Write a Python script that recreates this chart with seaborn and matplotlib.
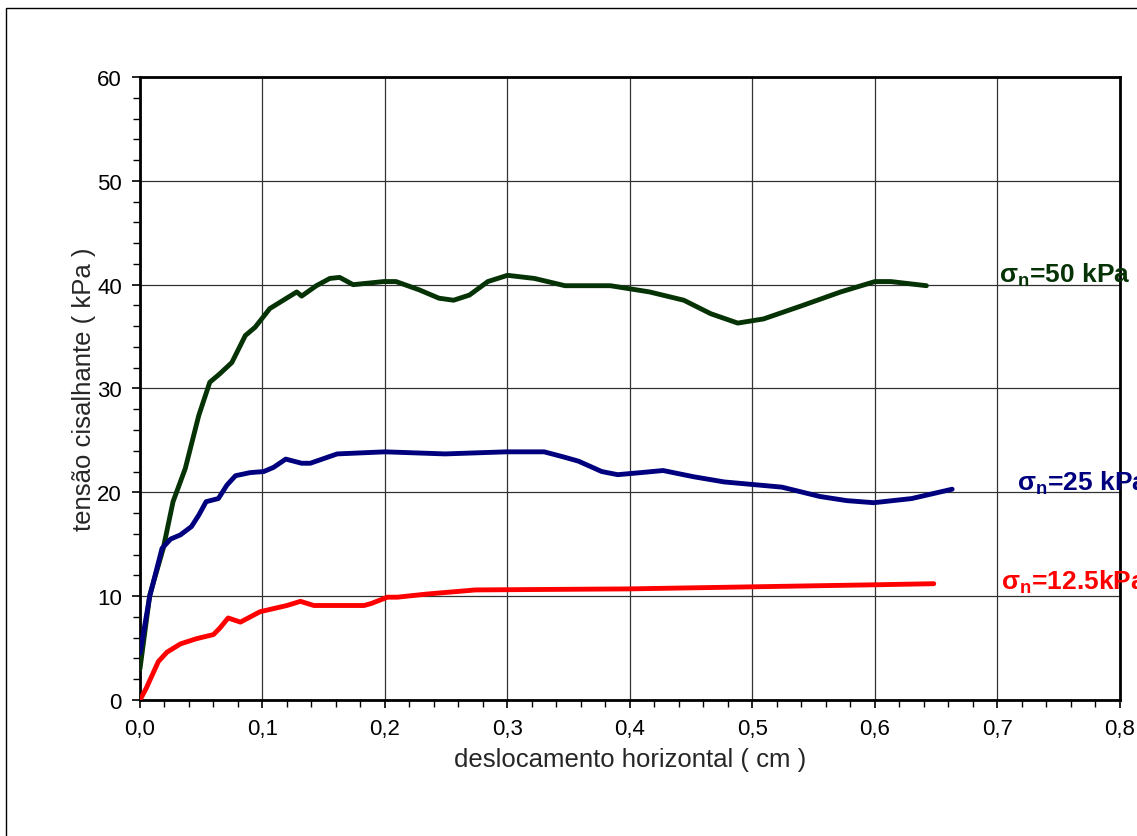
import matplotlib
matplotlib.use("Agg")
import numpy as np
import pandas as pd
import matplotlib.pyplot as plt
from matplotlib.patches import Rectangle
from matplotlib.ticker import MultipleLocator, FuncFormatter
import seaborn as sns

# dados (deslocamento em cm, tensão em kPa)
x_50 = [0.0, 0.008, 0.019, 0.027, 0.037, 0.048, 0.057, 0.065, 0.075, 0.086, 0.094,
        0.106, 0.117, 0.128, 0.132, 0.144, 0.155, 0.163, 0.174, 0.199, 0.209, 0.228,
        0.244, 0.256, 0.269, 0.284, 0.300, 0.322, 0.347, 0.384, 0.416, 0.444, 0.466,
        0.488, 0.509, 0.541, 0.572, 0.600, 0.613, 0.642]
y_50 = [3.0, 10.1, 14.6, 19.1, 22.3, 27.4, 30.6, 31.4, 32.5, 35.1, 35.9,
        37.7, 38.5, 39.3, 38.9, 39.9, 40.6, 40.7, 40.0, 40.3, 40.3, 39.5,
        38.7, 38.5, 39.0, 40.3, 40.9, 40.6, 39.9, 39.9, 39.3, 38.5, 37.2,
        36.3, 36.7, 38.0, 39.3, 40.3, 40.3, 39.9]

x_25 = [0.0, 0.008, 0.018, 0.025, 0.033, 0.042, 0.048, 0.054, 0.064, 0.071, 0.078,
        0.090, 0.101, 0.109, 0.119, 0.132, 0.139, 0.161, 0.200, 0.249, 0.299, 0.330,
        0.346, 0.358, 0.377, 0.390, 0.409, 0.427, 0.452, 0.477, 0.524, 0.555, 0.577,
        0.599, 0.630, 0.663]
y_25 = [4.5, 10.0, 14.6, 15.5, 15.9, 16.7, 17.8, 19.1, 19.4, 20.7, 21.6,
        21.9, 22.0, 22.4, 23.2, 22.8, 22.8, 23.7, 23.9, 23.7, 23.9, 23.9,
        23.4, 23.0, 22.0, 21.7, 21.9, 22.1, 21.5, 21.0, 20.5, 19.6, 19.2,
        19.0, 19.4, 20.3]

x_12 = [0.0, 0.005, 0.015, 0.022, 0.033, 0.046, 0.060, 0.065, 0.072, 0.082, 0.098,
        0.120, 0.131, 0.142, 0.183, 0.189, 0.202, 0.210, 0.234, 0.274, 0.399, 0.602,
        0.648]
y_12 = [0.0, 1.1, 3.7, 4.6, 5.4, 5.9, 6.3, 6.9, 7.9, 7.5, 8.5,
        9.1, 9.5, 9.1, 9.1, 9.3, 9.9, 9.9, 10.2, 10.6, 10.7, 11.1,
        11.2]

series = [
    (x_50, y_50, "#063306", r"$\mathregular{\sigma_n}$=50 kPa", (0.701, 40.3)),
    (x_25, y_25, "#00007f", r"$\mathregular{\sigma_n}$=25 kPa", (0.716, 20.2)),
    (x_12, y_12, "#ff0000", r"$\mathregular{\sigma_n}$=12.5kPa", (0.703, 10.7)),
]

sns.set_style("white")
plt.rcParams["font.family"] = ["Liberation Sans", "DejaVu Sans"]

fig = plt.figure(figsize=(11.37, 8.37), dpi=100)
ax = fig.add_axes([0.1231, 0.1625, 0.8619, 0.7443])

for xs, ys, col, lab, pos in series:
    df = pd.DataFrame({"x": xs, "y": ys})
    sns.lineplot(data=df, x="x", y="y", ax=ax, color=col, lw=3.5, sort=False,
                 solid_joinstyle="round", solid_capstyle="round", zorder=3)
    # como no original, os rótulos passam da borda direita da figura
    ax.text(pos[0], pos[1], lab, color=col, fontsize=19, fontweight="bold",
            va="baseline", ha="left", clip_on=False)

ax.set_xlim(0, 0.8)
ax.set_ylim(0, 60)
ax.xaxis.set_major_locator(MultipleLocator(0.1))
ax.xaxis.set_minor_locator(MultipleLocator(0.02))
ax.yaxis.set_major_locator(MultipleLocator(10))
ax.yaxis.set_minor_locator(MultipleLocator(2))
ax.xaxis.set_major_formatter(FuncFormatter(lambda v, p: f"{v:.1f}".replace(".", ",")))
ax.yaxis.set_major_formatter(FuncFormatter(lambda v, p: f"{v:.0f}"))

ax.grid(True, which="major", color="#333333", lw=0.9)
ax.tick_params(which="both", direction="out", colors="black", labelsize=16,
               bottom=True, left=True, top=False, right=False)
ax.tick_params(which="major", length=6, width=1.2, pad=7)
ax.tick_params(which="minor", length=5, width=1)
for sp in ax.spines.values():
    sp.set_color("black")
    sp.set_linewidth(2)

ax.set_xlabel("deslocamento horizontal ( cm )", fontsize=18.5, labelpad=6)
ax.set_ylabel("tensão cisalhante ( kPa )", fontsize=18.5, labelpad=1)

fig.patches.append(Rectangle((6 / 1137, -0.1), 1.1, 0.1 + (1 - 9 / 837),
                             transform=fig.transFigure, fill=False,
                             edgecolor="black", lw=1))

fig.savefig("out.png", dpi=100)
